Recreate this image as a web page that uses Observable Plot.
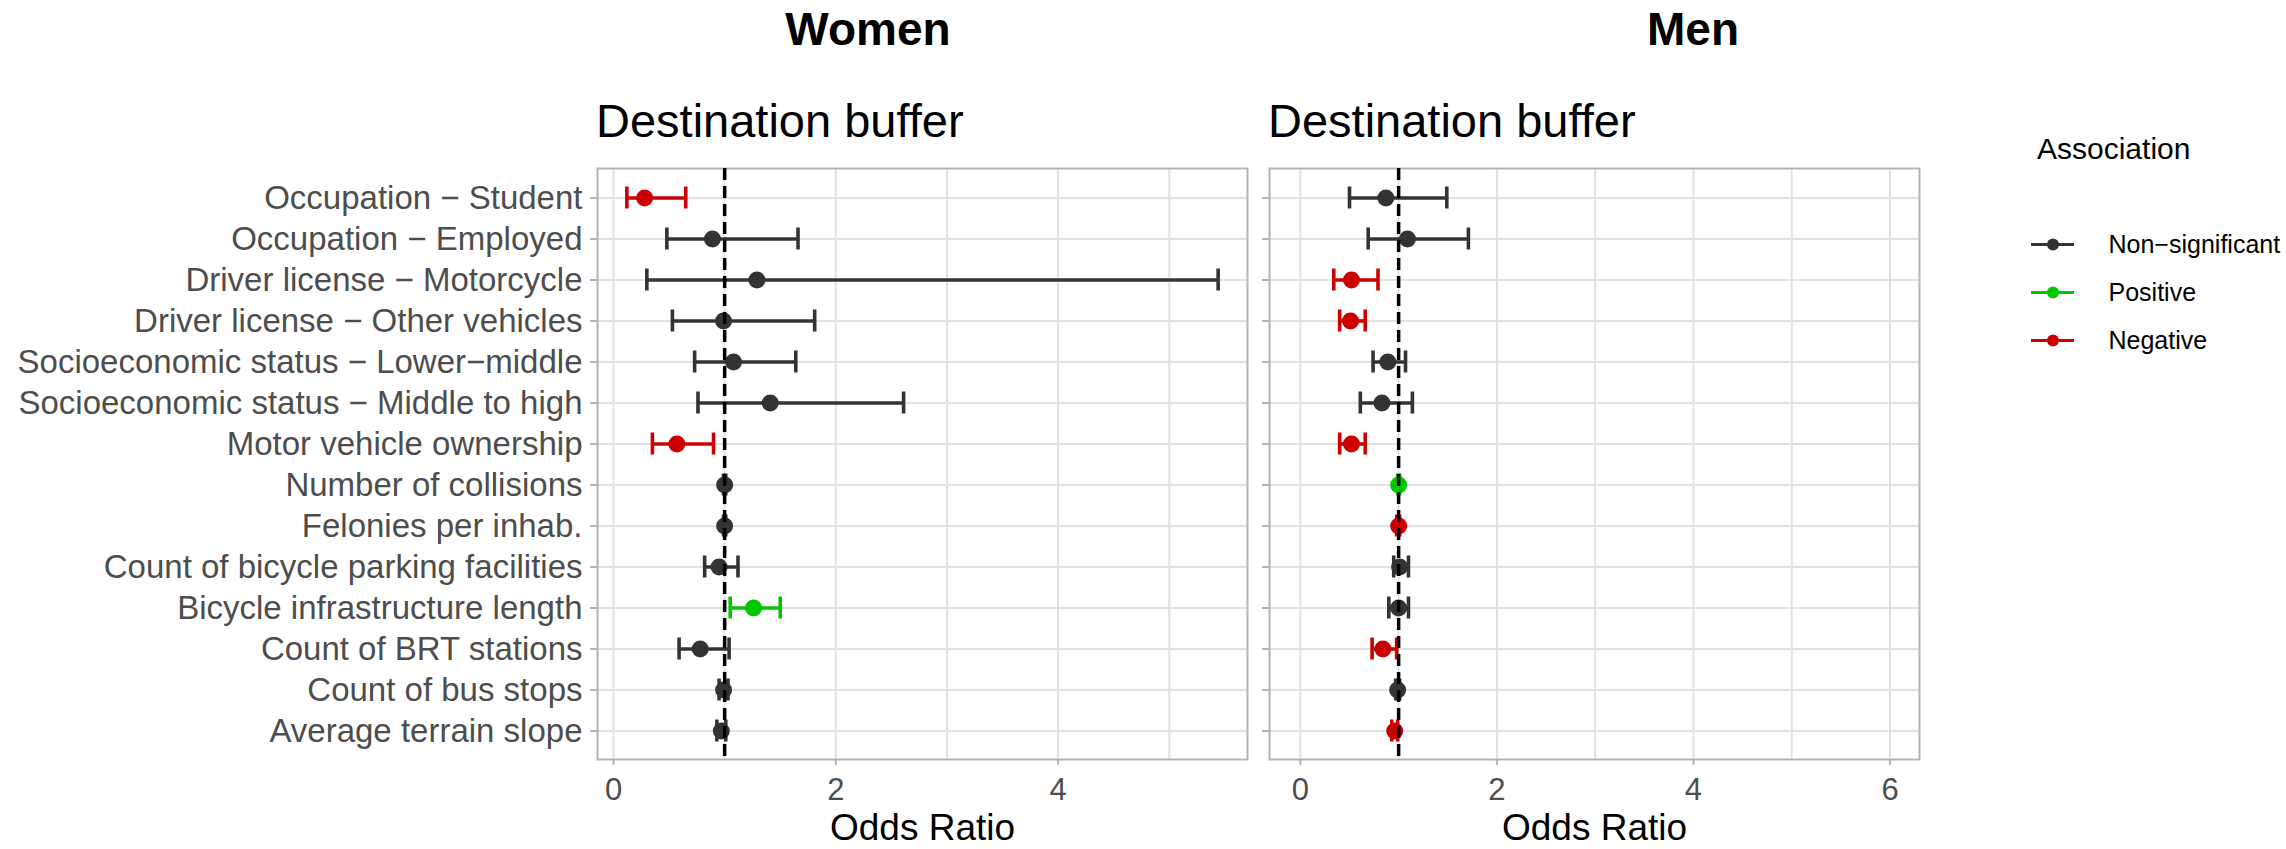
<!DOCTYPE html>
<html>
<head>
<meta charset="utf-8">
<script src="https://cdn.jsdelivr.net/npm/d3@7"></script>
<script src="https://cdn.jsdelivr.net/npm/@observablehq/plot@0.6"></script>
<style>
  html, body { margin: 0; padding: 0; background: #fff; }
  #page { position: relative; width: 2286px; height: 849px; background: #fff; }
  .abs { position: absolute; white-space: nowrap; }
  .group-title { font-family: "Liberation Sans", Arial, sans-serif; font-weight: 700; font-size: 46px; line-height: 46px; color: #000; transform: translateX(-50%); }
  .panel-title { font-family: "Liberation Sans", Arial, sans-serif; font-size: 47px; line-height: 47px; color: #000; }
  .legend-title { font-family: "Liberation Sans", Arial, sans-serif; font-size: 30px; line-height: 30px; color: #000; }
</style>
</head>
<body>
<div id="page">
  <div class="abs group-title" style="left:868px; top:6px;">Women</div>
  <div class="abs group-title" style="left:1693px; top:6px;">Men</div>
  <div class="abs panel-title" style="left:596px; top:97px;">Destination buffer</div>
  <div class="abs panel-title" style="left:1268px; top:97px;">Destination buffer</div>
  <div class="abs legend-title" style="left:2037px; top:134px;">Association</div>
  <div class="abs" id="women" style="left:0px; top:150px;"></div>
  <div class="abs" id="men" style="left:1257px; top:150px;"></div>
  <div class="abs" id="legend" style="left:2031px; top:220px;"></div>
</div>
<script>
// Predictors, listed top to bottom
const categories = [
  "Occupation − Student",
  "Occupation − Employed",
  "Driver license − Motorcycle",
  "Driver license − Other vehicles",
  "Socioeconomic status − Lower−middle",
  "Socioeconomic status − Middle to high",
  "Motor vehicle ownership",
  "Number of collisions",
  "Felonies per inhab.",
  "Count of bicycle parking facilities",
  "Bicycle infrastructure length",
  "Count of BRT stations",
  "Count of bus stops",
  "Average terrain slope"
];

// Association classes and their colours
const NS = "Non−significant", POS = "Positive", NEG = "Negative";
const assocNames = [NS, POS, NEG];
const assocColors = ["#333333", "#00c800", "#cc0000"];

// Women: odds ratio with 95% confidence interval
const womenOR = [0.28, 0.89, 1.29, 0.99, 1.08, 1.41, 0.57, 1.00, 1.00, 0.95, 1.26, 0.78, 0.99, 0.97];
const womenLo = [0.12, 0.48, 0.30, 0.53, 0.73, 0.76, 0.35, 0.99, 0.99, 0.82, 1.05, 0.59, 0.95, 0.93];
const womenHi = [0.65, 1.66, 5.44, 1.81, 1.64, 2.61, 0.90, 1.01, 1.01, 1.12, 1.50, 1.04, 1.03, 1.01];
const womenAssoc = [NEG, NS, NS, NS, NS, NS, NEG, NS, NS, NS, POS, NS, NS, NS];

// Men: odds ratio with 95% confidence interval
const menOR = [0.87, 1.09, 0.52, 0.51, 0.89, 0.83, 0.52, 1.00, 1.00, 1.01, 1.00, 0.84, 0.99, 0.96];
const menLo = [0.50, 0.69, 0.34, 0.40, 0.74, 0.61, 0.40, 0.99, 0.98, 0.95, 0.90, 0.73, 0.97, 0.93];
const menHi = [1.49, 1.71, 0.79, 0.66, 1.07, 1.14, 0.66, 1.01, 1.01, 1.10, 1.10, 0.98, 1.01, 0.99];
const menAssoc = [NS, NS, NEG, NEG, NS, NS, NEG, POS, NEG, NS, NS, NEG, NS, NEG];

// Axis settings
const womenDomain = [-0.144, 5.704];
const menDomain = [-0.314, 6.30];
const womenTicks = [0, 2, 4];
const menTicks = [0, 2, 4, 6];
const womenGrid = [0, 1, 2, 3, 4, 5];
const menGrid = [0, 1, 2, 3, 4, 5, 6];
const referenceOR = 1;

function rowsOf(or, lo, hi, assoc) {
  return categories.map((label, i) => ({label, or: or[i], lo: lo[i], hi: hi[i], assoc: assoc[i]}));
}

const gridColor = "#e2e2e2";
const borderColor = "#b3b3b3";
const textColor = "#4d4d4d";

function forestPanel({rows, domain, ticks, grid, showLabels, marginLeft}) {
  const panelWidth = 650;
  return Plot.plot({
    width: marginLeft + panelWidth + 10,
    height: 699,
    marginLeft,
    marginRight: 10,
    marginTop: 18,
    marginBottom: 90,
    style: {fontFamily: "'Liberation Sans', Arial, sans-serif", fontSize: "33px", color: textColor, background: "transparent", overflow: "visible"},
    x: {domain, nice: false},
    y: {type: "band", domain: categories, paddingInner: 0, paddingOuter: 0.085},
    color: {domain: assocNames, range: assocColors},
    marks: [
      Plot.ruleX(grid, {stroke: gridColor, strokeWidth: 2}),
      Plot.ruleY(categories, {y: d => d, stroke: gridColor, strokeWidth: 2}),
      Plot.frame({stroke: borderColor, strokeWidth: 2}),
      Plot.axisY({
        tickSize: 7,
        tickPadding: 8,
        stroke: borderColor,
        strokeWidth: 2,
        fill: textColor,
        fontSize: 33,
        label: null,
        tickFormat: showLabels ? d => d : () => ""
      }),
      Plot.axisX({
        ticks,
        tickFormat: d => String(d),
        tickSize: 6,
        tickPadding: 12,
        stroke: borderColor,
        strokeWidth: 2,
        fill: textColor,
        fontSize: 31,
        label: null
      }),
      Plot.text(["Odds Ratio"], {frameAnchor: "bottom", lineAnchor: "top", dy: 54, fontSize: 37, fill: "#000"}),
      Plot.ruleY(rows, {y: "label", x1: "lo", x2: "hi", stroke: "assoc", strokeWidth: 3.6}),
      Plot.tickX(rows, {x: "lo", y: "label", stroke: "assoc", strokeWidth: 3.6, insetTop: 9.5, insetBottom: 9.5}),
      Plot.tickX(rows, {x: "hi", y: "label", stroke: "assoc", strokeWidth: 3.6, insetTop: 9.5, insetBottom: 9.5}),
      Plot.dot(rows, {x: "or", y: "label", fill: "assoc", r: 8.5}),
      Plot.ruleX([referenceOR], {stroke: "#000", strokeWidth: 3.5, strokeDasharray: "12,6"})
    ]
  });
}

document.getElementById("women").appendChild(forestPanel({
  rows: rowsOf(womenOR, womenLo, womenHi, womenAssoc),
  domain: womenDomain, ticks: womenTicks, grid: womenGrid,
  showLabels: true, marginLeft: 597
}));

document.getElementById("men").appendChild(forestPanel({
  rows: rowsOf(menOR, menLo, menHi, menAssoc),
  domain: menDomain, ticks: menTicks, grid: menGrid,
  showLabels: false, marginLeft: 12
}));

// Legend: a key line with a point for each association class
const legend = Plot.plot({
  width: 43 + 200,
  height: 144,
  marginLeft: 0,
  marginRight: 200,
  marginTop: 0,
  marginBottom: 0,
  style: {fontFamily: "'Liberation Sans', Arial, sans-serif", fontSize: "25px", color: "#000", background: "transparent", overflow: "visible"},
  y: {type: "band", domain: assocNames, padding: 0},
  color: {domain: assocNames, range: assocColors},
  marks: [
    Plot.ruleY(assocNames, {y: d => d, stroke: d => d, strokeWidth: 3}),
    Plot.dot(assocNames, {y: d => d, fill: d => d, r: 6, frameAnchor: "middle"}),
    Plot.axisY({anchor: "right", tickSize: 0, tickPadding: 34, fontSize: 25, fill: "#000", label: null})
  ]
});
document.getElementById("legend").appendChild(legend);
</script>
</body>
</html>
